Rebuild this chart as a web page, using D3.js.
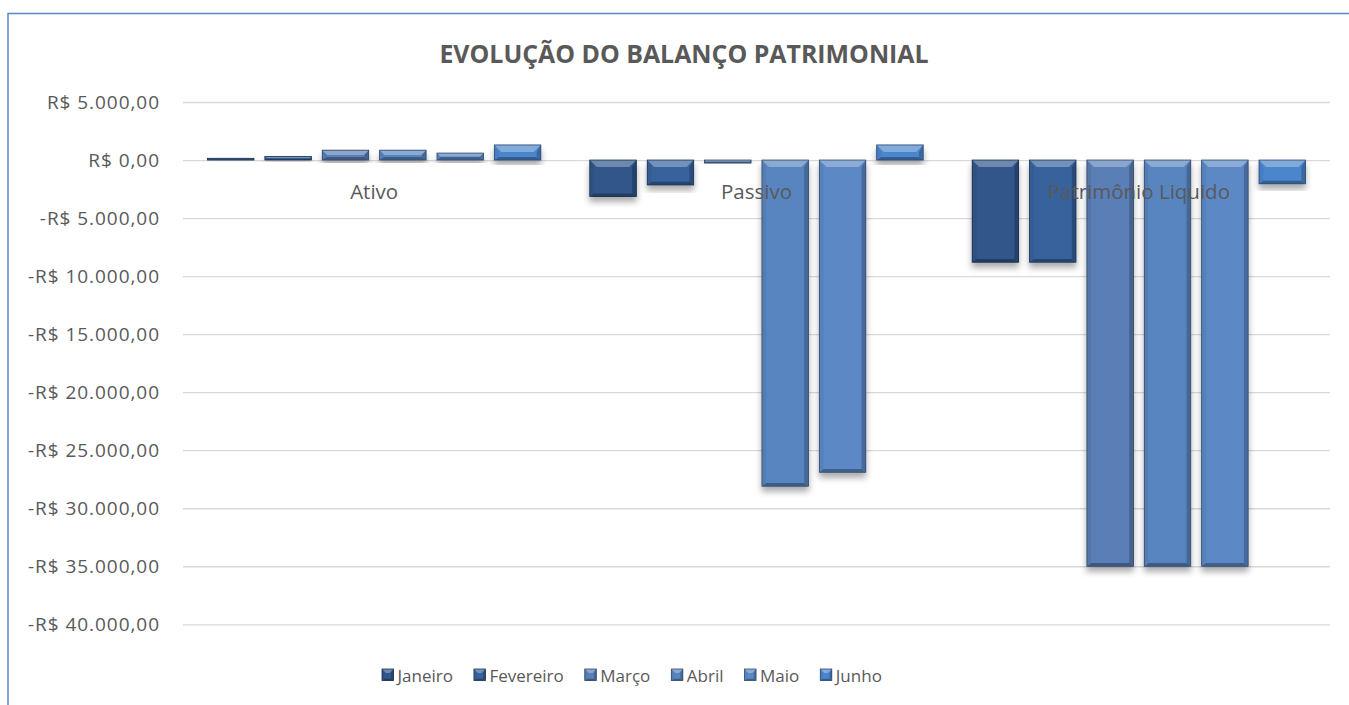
<!DOCTYPE html>
<html><head><meta charset="utf-8">
<script src="https://cdn.jsdelivr.net/npm/d3@7"></script>
<style>
html,body{margin:0;padding:0;background:#fff;}
svg{display:block;}
</style>
</head><body>
<svg id="chart" width="1349" height="705"></svg>
<script>
// ---- data ----
const categories = ["Ativo", "Passivo", "Patrimônio Liquido"];
const months = ["Janeiro", "Fevereiro", "Março", "Abril", "Maio", "Junho"];
const janeiro   = [150,  -3150,  -8800];
const fevereiro = [300,  -2150,  -8800];
const marco     = [850,  -260,   -35000];
const abril     = [850,  -28100, -35000];
const maio      = [600,  -26900, -35000];
const junho     = [1300, 1300,   -2050];
const seriesValues = [janeiro, fevereiro, marco, abril, maio, junho];
const yTickValues = [5000, 0, -5000, -10000, -15000, -20000, -25000, -30000, -35000, -40000];
const title = "EVOLUÇÃO DO BALANÇO PATRIMONIAL";

// ---- style ----
const monthColors = ["#30568a", "#37629c", "#5a7eb6", "#5985bf", "#5b89c6", "#4c85cc"];
const FONT = "'Open Sans', 'Noto Sans', sans-serif";
const textColor = "#595959";

const svg = d3.select("#chart");
const plot = {left: 183, right: 1330, top: 102, bottom: 624.3};

// frame
svg.append("rect").attr("x", 8).attr("y", 13.5).attr("width", 1500).attr("height", 900)
  .attr("fill", "none").attr("stroke", "#5a89c8").attr("stroke-width", 1.5);

const defs = svg.append("defs");
const f = defs.append("filter").attr("id", "shadow").attr("x", "-30%").attr("y", "-30%").attr("width", "160%").attr("height", "160%");
f.append("feDropShadow").attr("dx", 0).attr("dy", 5).attr("stdDeviation", 3)
  .attr("flood-color", "#000").attr("flood-opacity", 0.33);

// title
svg.append("text").attr("x", 684).attr("y", 63).attr("text-anchor", "middle")
  .attr("font-family", FONT).attr("font-weight", "bold").attr("font-size", 24.9)
  .attr("fill", textColor).text(title);

// scales
const y = d3.scaleLinear().domain([-40000, 5000]).range([plot.bottom, plot.top]);
const x0 = d3.scaleBand().domain(categories).range([plot.left, plot.right]).padding(0);
const x1 = d3.scaleBand().domain(months)
  .range([24.5, x0.bandwidth() - 24.5]).paddingInner(0.19).paddingOuter(0);

const loc = d3.formatLocale({decimal: ",", thousands: ".", grouping: [3], currency: ["R$ ", ""], minus: "-"});
const fmt = loc.format("$,.2f");

// gridlines + tick labels
const yAxis = d3.axisLeft(y).tickValues(yTickValues).tickFormat(fmt)
  .tickSize(-(plot.right - plot.left)).tickPadding(23);
const gAxis = svg.append("g").attr("transform", `translate(${plot.left},0)`).call(yAxis);
gAxis.select(".domain").remove();
gAxis.selectAll(".tick line").attr("stroke", "#d9d9d9").attr("stroke-width", 1.3);
gAxis.selectAll(".tick text").attr("font-family", FONT).attr("font-size", 19)
  .attr("letter-spacing", "0.95px").attr("fill", textColor);

// bars with bevel
function bevelBar(g, bx, by, bw, bh, color, bt) {
  const bTop = Math.min(bt, bw / 2, bh / 2);
  const bSide = Math.min(bt * 0.6, bw / 2, bh / 2);
  const bBot = Math.min(bt * 0.45, bh / 2);
  const light = d3.interpolateRgb(color, "#ffffff")(0.3);
  const left = d3.interpolateRgb(color, "#000000")(0.06);
  const bottom = d3.interpolateRgb(color, "#000000")(0.3);
  const right = d3.interpolateRgb(color, "#000000")(0.22);
  const edge = d3.interpolateRgb(color, "#000000")(0.45);
  g.append("rect").attr("x", bx).attr("y", by).attr("width", bw).attr("height", bh).attr("fill", color);
  const poly = (pts, c) => g.append("polygon").attr("points", pts.map(p => p.join(",")).join(" ")).attr("fill", c);
  poly([[bx, by + bh], [bx + bw, by + bh], [bx + bw - bSide, by + bh - bBot], [bx + bSide, by + bh - bBot]], bottom);
  poly([[bx, by], [bx + bSide, by + bTop], [bx + bSide, by + bh - bBot], [bx, by + bh]], left);
  poly([[bx + bw, by], [bx + bw - bSide, by + bTop], [bx + bw - bSide, by + bh - bBot], [bx + bw, by + bh]], right);
  poly([[bx, by], [bx + bw, by], [bx + bw - bTop, by + bTop], [bx + bTop, by + bTop]], light);
  g.append("rect").attr("x", bx).attr("y", by).attr("width", bw).attr("height", bh)
    .attr("fill", "none").attr("stroke", edge).attr("stroke-width", 0.8);
}

const barsG = svg.append("g");
categories.forEach((cat, ci) => {
  months.forEach((m, mi) => {
    const v = seriesValues[mi][ci];
    const bx = x0(cat) + x1(m);
    const by = Math.min(y(v), y(0));
    const bh = Math.max(1.2, Math.abs(y(v) - y(0)));
    const g = barsG.append("g").attr("filter", "url(#shadow)");
    bevelBar(g, bx, by, x1.bandwidth(), bh, monthColors[mi], 7);
  });
});

// category labels (next to axis at zero)
svg.append("g").selectAll("text").data(categories).join("text")
  .attr("x", d => x0(d) + x0.bandwidth() / 2).attr("y", y(0) + 39)
  .attr("text-anchor", "middle").attr("font-family", FONT).attr("font-size", 20.5)
  .attr("fill", textColor).text(d => d);

// legend
const leg = svg.append("g");
let lx = 382;
months.forEach((m, i) => {
  const g = leg.append("g");
  bevelBar(g, lx, 669, 11.5, 11.5, monthColors[i], 4);
  const t = g.append("text").attr("x", lx + 15.5).attr("y", 682)
    .attr("font-family", FONT).attr("font-size", 17).attr("fill", textColor).text(m);
  lx += 15.5 + t.node().getComputedTextLength() + 21;
});
</script>
</body></html>
